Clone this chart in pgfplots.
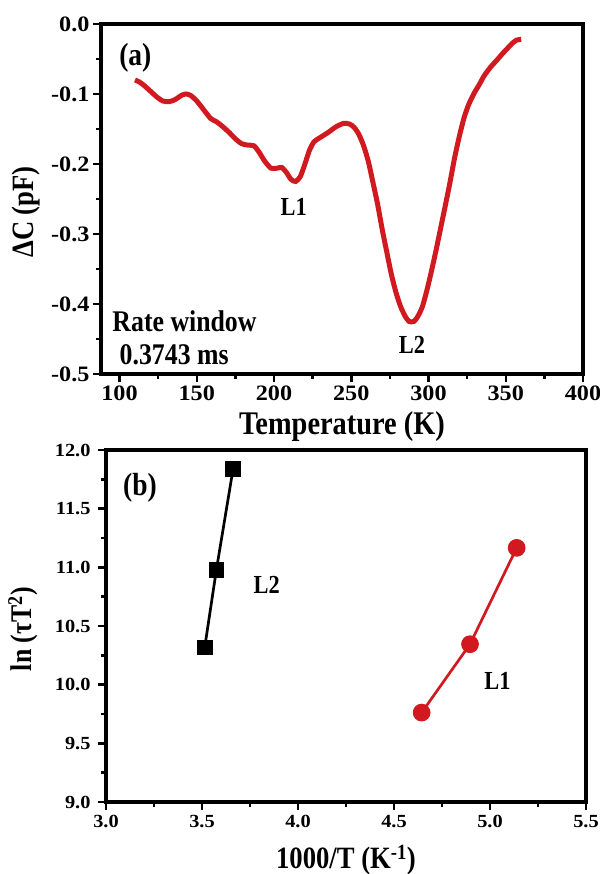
\documentclass[border=0pt]{standalone}
\usepackage{fontspec}
\setmainfont{Liberation Serif}[FakeStretch=0.86]
\newfontfamily\tickfamily{Liberation Serif}[FakeStretch=1.1]
\usepackage{pgfplots}
\pgfplotsset{compat=1.18}
\definecolor{dred}{RGB}{208,26,32}
\newcommand{\myfsz}[1]{\fontsize{#1bp}{#1bp}\selectfont\bfseries}
\newcommand{\tfz}[1]{\tickfamily\fontsize{#1bp}{#1bp}\selectfont\bfseries}
\begin{document}
\begin{tikzpicture}
\path[use as bounding box] (0,0) rectangle (600bp,874bp);
\pgfplotsset{
  myaxis/.style={
    scale only axis,
    axis line style={line width=3.5bp},
    tick align=outside,
    tick pos=left,
    major tick length=8bp,
    minor tick length=5bp,
    every tick/.append style={line width=2.5bp, black},
    /pgf/number format/assume math mode=true,
    clip=false,
  }
}
\begin{axis}[myaxis,
  at={(101bp,500bp)}, anchor=south west,
  width=482bp, height=350bp,
  xmin=88, xmax=400, ymin=-0.5, ymax=0,
  xtick={100,150,...,400}, minor xtick={125,175,...,375},
  ytick={-0.5,-0.4,-0.3,-0.2,-0.1,0}, minor ytick={-0.45,-0.35,-0.25,-0.15,-0.05},
  xticklabel={\tfz{22}\pgfmathprintnumber[int detect]{\tick}},
  yticklabel={\tfz{22}\pgfmathprintnumber[fixed,fixed zerofill,precision=1]{\tick}},
  xlabel={Temperature (K)},
  ylabel={ΔC (pF)},
  xlabel style={font=\myfsz{33}, at={(axis description cs:0.5,0)}, anchor=base, yshift=-61bp},
  ylabel style={font=\myfsz{31}, at={(axis description cs:-0.139,0.463)}, anchor=base},
]
\addplot[dred, line width=5bp, smooth, tension=0.4] coordinates {
(110,-0.080) (113,-0.083) (116,-0.088) (120,-0.096) (124,-0.104) (128,-0.110)
(132,-0.111) (136,-0.108) (140,-0.102) (143,-0.100) (146,-0.102) (150,-0.110)
(155,-0.124) (159,-0.135) (163,-0.140) (167,-0.147) (171,-0.155) (175,-0.164)
(179,-0.171) (183,-0.173) (187,-0.174) (190,-0.182) (194,-0.196) (198,-0.206)
(202,-0.206) (205,-0.205) (208,-0.212) (211,-0.222) (214,-0.225) (217,-0.218)
(220,-0.200) (223,-0.180) (226,-0.168) (230,-0.162) (235,-0.155) (240,-0.147)
(245,-0.142) (249,-0.143) (252,-0.148) (255,-0.158) (258,-0.174) (261,-0.196)
(264,-0.226) (267,-0.257) (270,-0.293) (273,-0.326) (276,-0.358) (279,-0.384)
(282,-0.404) (285,-0.418) (287.5,-0.425) (290.5,-0.425) (293,-0.418) (296,-0.404)
(299,-0.380) (302,-0.352) (305,-0.322) (308,-0.290) (311,-0.258) (314,-0.225)
(317,-0.190) (320,-0.160) (323,-0.134) (326,-0.115) (329.5,-0.099) (333,-0.086)
(336,-0.074) (340,-0.062) (344.5,-0.051) (348,-0.042) (351,-0.035) (354,-0.028)
(357,-0.023) (360,-0.022)
};
\node[font=\myfsz{32}] at (axis cs:110.2,-0.048) {(a)};
\node[font=\myfsz{26}] at (axis cs:212.7,-0.2614) {L1};
\node[font=\myfsz{26}] at (axis cs:289.3,-0.4586) {L2};
\node[font=\myfsz{30}, anchor=base west, inner sep=0pt] at (axis cs:95.3,-0.4396) {Rate window};
\node[font=\myfsz{30}, anchor=base west, inner sep=0pt] at (axis cs:100,-0.487) {0.3743 ms};
\end{axis}

\begin{axis}[myaxis,
  at={(106bp,72bp)}, anchor=south west,
  width=480bp, height=352bp,
  xmin=3, xmax=5.5, ymin=9, ymax=12,
  xtick={3,3.5,...,5.5}, minor xtick={3.25,3.75,...,5.25},
  ytick={9,9.5,...,12}, minor ytick={9.25,9.75,...,11.75},
  xticklabel={\tfz{18.5}\pgfmathprintnumber[fixed,fixed zerofill,precision=1]{\tick}},
  yticklabel={\tfz{18.5}\pgfmathprintnumber[fixed,fixed zerofill,precision=1]{\tick}},
  xticklabel style={yshift=-2bp},
  yticklabel style={xshift=-4bp},
  xlabel={1000/T (K\textsuperscript{-1})},
  ylabel={ln (τT\textsuperscript{2})},
  xlabel style={font=\myfsz{31}, at={(axis description cs:0.5,0)}, anchor=base, yshift=-66bp},
  ylabel style={font=\myfsz{30}, at={(axis description cs:-0.156,0.491)}, anchor=base},
]
\addplot[black, line width=2.7bp, mark=square*, mark size=6.5bp, mark options={solid}] coordinates {
(3.514,10.316) (3.575,10.98) (3.662,11.84)
};
\addplot[dred, line width=2.7bp, mark=*, mark size=7.5bp, mark options={solid}] coordinates {
(4.644,9.762) (4.896,10.345) (5.139,11.166)
};
\node[font=\myfsz{32}] at (axis cs:3.177,11.68) {(b)};
\node[font=\myfsz{26}] at (axis cs:3.837,10.848) {L2};
\node[font=\myfsz{26}] at (axis cs:5.039,10.029) {L1};
\end{axis}
\end{tikzpicture}
\end{document}
